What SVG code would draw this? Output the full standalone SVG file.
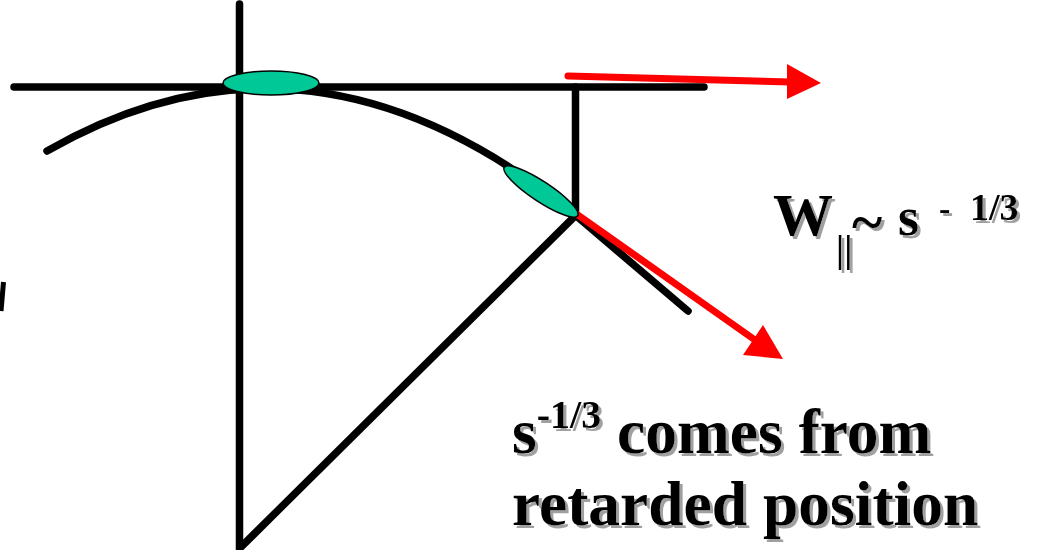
<svg xmlns="http://www.w3.org/2000/svg" width="1040" height="550" viewBox="0 0 1040 550">
<style>
.blk{stroke:#000;stroke-width:7.5;fill:none;stroke-linecap:round}
.red{stroke:#ff0000;stroke-width:7;fill:none;stroke-linecap:round}
.ell{fill:#00c896;stroke:#000;stroke-width:1.5}
.lbl{font-family:'Liberation Serif','DejaVu Serif',serif;font-weight:bold;fill:#000;filter:url(#shadow)}
</style>
<defs>
<filter id="shadow" x="-5%" y="-10%" width="115%" height="130%">
<feOffset in="SourceAlpha" dx="3" dy="3" result="o"/>
<feFlood flood-color="#a0a0a0"/>
<feComposite in2="o" operator="in" result="s"/>
<feMerge><feMergeNode in="s"/><feMergeNode in="SourceGraphic"/></feMerge>
</filter>
</defs>
<rect width="1040" height="550" fill="#fff"/>
<g id="connectors">
<line class="blk" x1="239.5" y1="4" x2="239.5" y2="556"/>
<line class="blk" x1="14" y1="87" x2="704" y2="87"/>
<line class="blk" x1="575.5" y1="87" x2="575.5" y2="215"/>
<line class="blk" x1="576" y1="215" x2="240" y2="548" stroke-linecap="butt"/>
<path class="blk" d="M47,151 Q311.5,-0.6 576,215.7 L688,311"/>
<line class="red" x1="568" y1="76" x2="790" y2="82"/>
<polygon fill="#ff0000" points="787,64 821,83 787,99"/>
<line class="red" x1="578" y1="215" x2="755" y2="340" stroke-linecap="butt"/>
<polygon fill="#ff0000" points="743,355 763,325 783,359"/>
<line x1="3.5" y1="282" x2="1" y2="311" stroke="#000" stroke-width="5"/>
</g>
<g id="node-top">
<ellipse class="ell" cx="271" cy="83" rx="48" ry="12"/>
</g>
<g id="node-retarded">
<ellipse class="ell" cx="541" cy="191.5" rx="44" ry="10" transform="rotate(33.5 541 191.5)"/>
</g>
<g id="label-w">
<text class="lbl"><tspan x="773" y="235" font-size="60">W</tspan><tspan x="836" y="262" font-size="37">||</tspan><tspan x="852" y="241" font-size="58">~</tspan><tspan x="898" y="235" font-size="54">s</tspan><tspan x="939" y="220" font-size="34">-</tspan><tspan x="970" y="220" font-size="38">1/3</tspan></text>
</g>
<g id="label-s">
<text class="lbl"><tspan x="512" y="453" font-size="63.5">s</tspan><tspan font-size="40" dy="-25">-1/3</tspan><tspan font-size="63.5" dy="25"> comes from</tspan></text>
<text class="lbl" x="512" y="525" font-size="63.5">retarded position</text>
</g>
</svg>
